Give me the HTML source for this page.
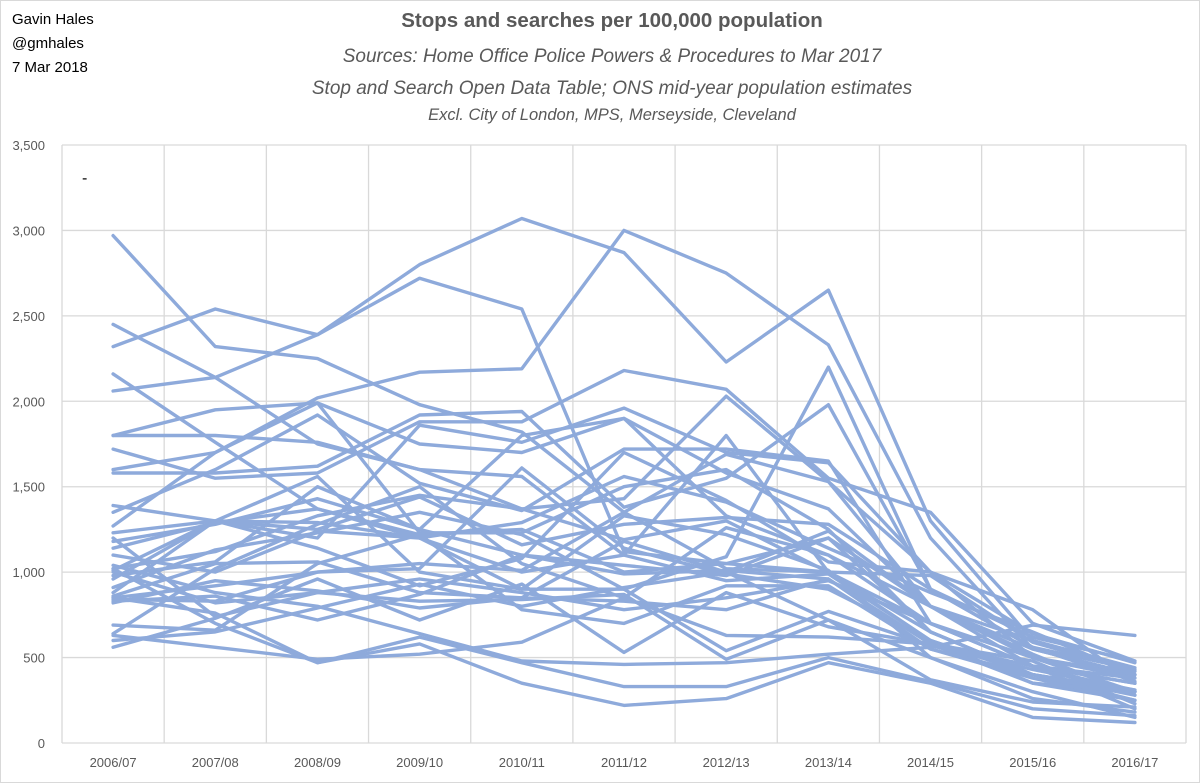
<!DOCTYPE html>
<html><head><meta charset="utf-8"><style>
body{margin:0;background:#fff;}
svg{display:block;font-family:"Liberation Sans",sans-serif;}
</style></head><body>
<svg id="chart" width="1200" height="783">
<rect x="0.5" y="0.5" width="1199" height="782" fill="#fff" stroke="#d9d9d9"/>
<text x="12" y="24" font-size="15" fill="#000">Gavin Hales</text>
<text x="12" y="48" font-size="15" fill="#000">@gmhales</text>
<text x="12" y="72" font-size="15" fill="#000">7 Mar 2018</text>
<text x="612" y="27" font-size="20.5" font-weight="bold" fill="#595959" text-anchor="middle">Stops and searches per 100,000 population</text>
<text x="612" y="62" font-size="19" font-style="italic" fill="#595959" text-anchor="middle">Sources: Home Office Police Powers &amp; Procedures to Mar 2017</text>
<text x="612" y="94" font-size="19" font-style="italic" fill="#595959" text-anchor="middle">Stop and Search Open Data Table; ONS mid-year population estimates</text>
<text x="612" y="120" font-size="16.5" font-style="italic" fill="#595959" text-anchor="middle">Excl. City of London, MPS, Merseyside, Cleveland</text>
<text x="82" y="183" font-size="16" fill="#000">-</text>
<g id="grid"></g><g id="lines"></g><g id="labels"></g>
</svg>
<script>
const categories=["2006/07","2007/08","2008/09","2009/10","2010/11","2011/12","2012/13","2013/14","2014/15","2015/16","2016/17"];
const yTicks=[0,500,1000,1500,2000,2500,3000,3500];
const yTickLabels=["0","500","1,000","1,500","2,000","2,500","3,000","3,500"];
const s01=[2970,2320,2250,1980,1820,1350,1020,1000,700,450,300];
const s02=[2320,2540,2390,2800,3070,2870,2230,2650,1300,600,420];
const s03=[2060,2140,2390,2720,2540,1120,1050,1000,650,400,300];
const s04=[2450,2140,1750,1600,1370,1190,1300,1000,600,350,250];
const s05=[2160,1760,1370,1220,1250,1000,1050,1200,650,400,300];
const s06=[1800,1950,1990,1750,1700,1900,1580,1370,800,500,400];
const s07=[1720,1550,1580,1880,1880,2180,2070,1550,1350,700,480];
const s08=[1800,1800,1760,1600,1560,1100,950,990,600,400,300];
const s09=[1600,1700,2020,2170,2190,3000,2750,2330,1200,550,400];
const s10=[1580,1580,1620,1920,1940,1380,1550,1980,900,560,430];
const s11=[1390,1300,1200,1860,1760,1960,1700,1640,1000,640,470];
const s12=[1350,1600,1920,1520,1360,1720,1720,1650,700,500,380];
const s13=[1270,1700,1990,1230,1230,1500,1600,1250,650,400,250];
const s14=[1230,1300,1250,1440,1160,1280,1320,1280,900,620,480];
const s15=[1180,1280,1430,1250,1100,1040,980,1200,800,550,400];
const s16=[1140,1290,1370,1200,1290,1560,1410,1140,880,650,400];
const s17=[1020,1120,1330,1450,1370,1430,2030,1530,1000,780,350];
const s18=[1010,1300,1290,1200,1000,1100,1800,1000,980,590,420];
const s19=[980,1060,1500,1250,1800,1900,1330,1100,800,450,350];
const s20=[960,1300,1560,1000,900,1330,1220,1010,500,260,180];
const s21=[910,1130,1230,1350,1220,900,1090,2200,900,560,360];
const s22=[880,1300,1140,920,1080,1700,1420,1060,1000,500,300];
const s23=[860,1050,1060,880,850,1180,1000,1240,800,520,280];
const s24=[850,920,1000,1020,1610,1140,990,900,600,400,280];
const s25=[840,830,1000,1050,1010,1350,1690,1530,800,600,440];
const s26=[830,860,720,870,1100,990,1010,960,550,380,250];
const s27=[820,950,890,790,850,830,780,960,580,350,300];
const s28=[1000,820,880,960,880,780,850,950,700,450,350];
const s29=[690,660,1050,1220,780,700,920,920,550,400,310];
const s30=[640,1020,1280,1500,1050,850,1260,1100,700,450,200];
const s31=[630,560,490,520,590,850,630,620,580,480,230];
const s32=[600,650,790,930,800,910,1000,720,500,300,150];
const s33=[560,730,960,720,930,530,880,680,580,450,380];
const s34=[1040,880,800,640,480,460,470,520,560,690,630];
const s35=[850,760,470,580,350,220,260,470,350,150,120];
const s36=[1020,700,470,620,470,330,330,500,360,200,160];
const s37=[1200,740,880,830,840,870,490,720,370,240,210];
const s38=[1100,1000,1240,1200,900,900,540,770,570,430,310];
const allSeries=[s01,s02,s03,s04,s05,s06,s07,s08,s09,s10,s11,s12,s13,s14,s15,s16,s17,s18,s19,s20,s21,s22,s23,s24,s25,s26,s27,s28,s29,s30,s31,s32,s33,s34,s35,s36,s37,s38];

const NS="http://www.w3.org/2000/svg";
const L=62,R=1186,T=145,B=743,yMax=3500;
const step=(R-L)/categories.length;
const xPos=i=>L+step*(i+0.5);
const yPos=v=>B-(v/yMax)*(B-T);
const grid=document.getElementById('grid'),lines=document.getElementById('lines'),labels=document.getElementById('labels');
function mk(tag,attrs){const e=document.createElementNS(NS,tag);for(const k in attrs)e.setAttribute(k,attrs[k]);return e;}
yTicks.forEach((t,i)=>{
  const g=mk('line',{x1:L,x2:R,y1:yPos(t),y2:yPos(t),stroke:'#d9d9d9','stroke-width':1.3});
  
  
  grid.appendChild(g);
  const tx=mk('text',{x:45,y:yPos(t)+5,'font-size':13,fill:'#595959','text-anchor':'end'});
  tx.textContent=yTickLabels[i];
  
  
  labels.appendChild(tx);
});
for(let i=0;i<=categories.length;i++){
  const x=L+step*i;
  const g=mk('line',{x1:x,x2:x,y1:T,y2:B,stroke:'#d9d9d9','stroke-width':1.3});
  
  
  grid.appendChild(g);
}
categories.forEach((c,i)=>{
  const tx=mk('text',{x:xPos(i),y:767,'font-size':13,fill:'#595959','text-anchor':'middle'});
  tx.textContent=c;
  
  
  labels.appendChild(tx);
});
allSeries.forEach((s)=>{
  const d=s.map((v,i)=>(i?'L':'M')+xPos(i).toFixed(1)+','+yPos(v).toFixed(1)).join(' ');
  const p=mk('path',{d:d,fill:'none',stroke:'#8eaadb','stroke-width':3.4,'stroke-linejoin':'round','stroke-linecap':'round'});
  
  
  lines.appendChild(p);
});
</script>
</body></html>
